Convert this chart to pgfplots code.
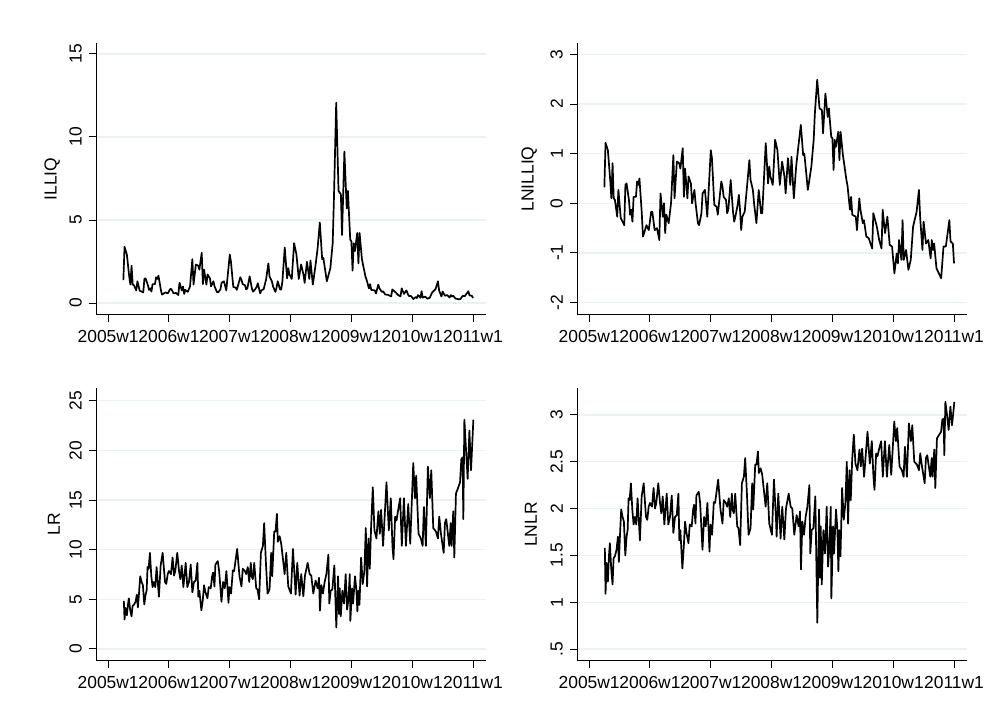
\documentclass[border=0pt]{standalone}
\usepackage{fontspec}
\setmainfont{Liberation Sans}
\usepackage{pgfplots}
\pgfplotsset{compat=1.18}
\definecolor{gridc}{RGB}{234,242,243}
\pgfplotsset{
 stata/.style={
  scale only axis, width=390bp,
  axis lines*=left,
  axis line style={black, line width=1bp, -},
  xmin=-10.4, xmax=323.1,
  xtick={0,52,104,156,208,260,312},
  xticklabels={2005w1,2006w1,2007w1,2008w1,2009w1,2010w1,2011w1},
  tick align=outside, major tick length=7bp,
  every tick/.style={black, line width=1bp},
  ymajorgrids, grid style={gridc, line width=1.2bp},
  ticklabel style={font=\fontsize{17.5}{17.5}\selectfont},
  yticklabel style={rotate=90, anchor=south, inner sep=0pt, yshift=7bp},
  xticklabel style={anchor=north, inner sep=0pt, yshift=-8bp},
  label style={font=\fontsize{17.5}{17.5}\selectfont},
  ylabel style={at={(axis description cs:0,0.5)}, anchor=south, inner sep=0pt, yshift=36bp},
 },
 ln/.style={black, line width=1.7bp, line join=round, no markers}
}
\begin{document}
\begin{tikzpicture}
\fill[white] (0,0) rectangle (995bp,726bp);
\useasboundingbox (0,0) rectangle (995bp,726bp);
% ILLIQ
\begin{axis}[stata, at={(96bp,411bp)}, anchor=south west, height=272bp,
  ymin=-0.72, ymax=15.66, ytick={0,5,10,15}, yticklabels={0,5,10,15}, ylabel={ILLIQ}]
\addplot[ln] coordinates {
(13,1.38) (14,3.39) (16,2.92) (18,1.60) (19,1.11) (20,2.25) (21,1.11) (22,1.07) (24,0.76) (25,1.31)
(27,0.74) (28,0.71) (30,0.64) (31,1.45) (32,1.49) (34,1.07) (35,0.79) (36,0.88) (37,0.69) (38,1.14)
(40,1.14) (41,1.55) (42,1.45) (43,1.65) (45,0.82) (46,0.51) (47,0.55) (49,0.64) (51,0.58) (53,0.84)
(54,0.84) (56,0.58) (58,0.61) (60,0.48) (61,1.22) (63,0.76) (64,1.00) (65,0.55) (66,0.79) (68,0.67)
(70,1.00) (72,2.64) (73,1.11) (75,2.32) (77,2.25) (78,2.01) (80,3.03) (81,1.14) (82,2.01) (84,1.11)
(85,1.72) (87,1.49) (88,1.00) (90,1.31) (91,1.00) (93,0.67) (94,0.64) (96,0.82) (97,1.22) (99,1.31)
(101,0.76) (104,2.92) (105,2.48) (107,0.97) (109,0.93) (110,0.79) (113,1.55) (114,1.40) (115,1.14) (117,1.07)
(118,0.82) (119,0.88) (121,1.60) (123,0.84) (124,0.69) (125,0.76) (127,0.97) (128,1.19) (129,0.88) (130,0.58)
(131,0.76) (133,0.84) (135,1.40) (137,2.39) (138,1.60) (139,1.45) (140,1.31) (141,1.00) (143,0.67) (144,0.93)
(145,1.31) (147,0.82) (148,0.82) (149,1.31) (151,3.35) (153,1.49) (154,2.10) (155,1.72) (157,1.45) (159,3.60)
(161,2.92) (163,1.45) (165,2.32) (167,1.72) (168,1.22) (170,2.48) (172,1.45) (173,2.56) (175,1.11) (177,2.10)
(179,3.22) (181,4.85) (183,2.64) (184,2.72) (187,1.31) (190,2.10) (192,3.60) (193,6.11) (195,12.06) (197,6.75)
(199,6.55) (200,4.10) (202,9.12) (204,5.70) (205,6.75) (207,3.82) (208,3.71) (209,1.95) (210,3.60) (211,3.13)
(213,4.22) (214,2.39) (215,4.22) (217,2.64) (220,1.60) (221,1.40) (223,0.88) (224,1.14) (225,0.79) (228,0.76)
(229,0.58) (231,1.11) (232,0.88) (234,0.67) (235,0.71) (237,0.51) (239,0.50) (242,0.40) (243,0.82) (246,0.63)
(248,0.48) (250,0.40) (251,0.88) (253,0.55) (255,0.76) (257,0.43) (259,0.42) (261,0.24) (263,0.36) (264,0.30)
(265,0.48) (267,0.32) (268,0.71) (269,0.32) (271,0.39) (273,0.26) (275,0.32) (277,0.63) (280,0.84) (282,1.31)
(283,0.76) (285,0.39) (286,0.69) (288,0.44) (290,0.48) (292,0.33) (293,0.48) (294,0.39) (295,0.44) (297,0.27)
(299,0.24) (301,0.22) (303,0.42) (305,0.42) (308,0.71) (309,0.46) (311,0.44) (312,0.30)
};
\end{axis}
% LNILLIQ
\begin{axis}[stata, at={(577bp,411bp)}, anchor=south west, height=272bp,
  ymin=-2.25, ymax=3.23, ytick={-2,-1,0,1,2,3}, yticklabels={-2,-1,0,1,2,3}, ylabel={LNILLIQ},
  ylabel style={yshift=4bp}]
\addplot[ln] coordinates {
(13,0.32) (14,1.22) (16,1.07) (18,0.47) (19,0.10) (20,0.81) (21,0.10) (22,0.07) (24,-0.27) (25,0.27)
(27,-0.30) (28,-0.34) (30,-0.44) (31,0.37) (32,0.40) (34,0.07) (35,-0.23) (36,-0.13) (37,-0.37) (38,0.13)
(40,0.13) (41,0.44) (42,0.37) (43,0.50) (45,-0.20) (46,-0.67) (47,-0.60) (49,-0.44) (51,-0.54) (53,-0.17)
(54,-0.17) (56,-0.54) (58,-0.50) (60,-0.74) (61,0.20) (63,-0.27) (64,0.00) (65,-0.60) (66,-0.23) (68,-0.40)
(70,0.00) (72,0.97) (73,0.10) (75,0.84) (77,0.81) (78,0.70) (80,1.11) (81,0.13) (82,0.70) (84,0.10)
(85,0.54) (87,0.40) (88,0.00) (90,0.27) (91,0.00) (93,-0.40) (94,-0.44) (96,-0.20) (97,0.20) (99,0.27)
(101,-0.27) (104,1.07) (105,0.91) (107,-0.03) (109,-0.07) (110,-0.23) (113,0.44) (114,0.34) (115,0.13) (117,0.07)
(118,-0.20) (119,-0.13) (121,0.47) (123,-0.17) (124,-0.37) (125,-0.27) (127,-0.03) (128,0.17) (129,-0.13) (130,-0.54)
(131,-0.27) (133,-0.17) (135,0.34) (137,0.87) (138,0.47) (139,0.37) (140,0.27) (141,0.00) (143,-0.40) (144,-0.07)
(145,0.27) (147,-0.20) (148,-0.20) (149,0.27) (151,1.21) (153,0.40) (154,0.74) (155,0.54) (157,0.37) (159,1.28)
(161,1.07) (163,0.37) (165,0.84) (167,0.54) (168,0.20) (170,0.91) (172,0.37) (173,0.94) (175,0.10) (177,0.74)
(179,1.17) (181,1.58) (183,0.97) (184,1.00) (187,0.27) (190,0.74) (192,1.28) (193,1.81) (195,2.49) (197,1.91)
(199,1.88) (200,1.41) (202,2.21) (204,1.74) (205,1.91) (207,1.34) (208,1.31) (209,0.67) (210,1.28) (211,1.14)
(213,1.44) (214,0.87) (215,1.44) (217,0.97) (220,0.47) (221,0.34) (223,-0.13) (224,0.13) (225,-0.23) (228,-0.27)
(229,-0.54) (231,0.10) (232,-0.13) (234,-0.40) (235,-0.34) (237,-0.67) (239,-0.70) (242,-0.91) (243,-0.20) (246,-0.47)
(248,-0.74) (250,-0.91) (251,-0.13) (253,-0.60) (255,-0.27) (257,-0.84) (259,-0.87) (261,-1.41) (263,-1.01) (264,-1.21)
(265,-0.74) (267,-1.14) (268,-0.34) (269,-1.14) (271,-0.94) (273,-1.34) (275,-1.14) (277,-0.47) (280,-0.17) (282,0.27)
(283,-0.27) (285,-0.94) (286,-0.37) (288,-0.81) (290,-0.74) (292,-1.11) (293,-0.74) (294,-0.94) (295,-0.81) (297,-1.31)
(299,-1.41) (301,-1.51) (303,-0.87) (305,-0.87) (308,-0.34) (309,-0.77) (311,-0.81) (312,-1.21)
};
\end{axis}
% LR
\begin{axis}[stata, at={(96bp,65bp)}, anchor=south west, height=273bp,
  ymin=-1.21, ymax=26.28, ytick={0,5,10,15,20,25}, yticklabels={0,5,10,15,20,25}, ylabel={LR}]
\addplot[ln] coordinates {
(13.4,4.85) (14.0,2.97) (14.9,4.14) (16.0,3.39) (16.9,4.44) (17.7,5.10) (18.9,3.86) (20.0,3.29) (20.9,4.35) (22.0,4.44)
(23.4,4.76) (24.6,5.47) (25.4,4.18) (26.3,5.47) (27.4,7.32) (28.6,6.75) (29.7,6.42) (30.9,4.48) (32.0,5.47) (32.9,5.87)
(33.7,8.25) (34.6,8.08) (35.7,9.68) (36.9,7.32) (38.0,6.23) (39.1,6.75) (40.3,6.23) (41.4,8.25) (43.4,5.26) (44.9,8.41)
(46.6,9.68) (48.6,6.75) (49.7,6.55) (50.9,7.54) (52.0,7.85) (53.7,7.54) (55.1,9.21) (56.3,7.39) (57.4,7.85) (59.1,9.68)
(60.6,7.85) (61.7,7.03) (62.9,8.41) (64.3,6.23) (66.3,8.67) (67.7,6.23) (69.1,6.75) (70.6,8.50) (72.0,5.70) (73.4,6.75)
(74.9,6.89) (76.3,8.67) (77.1,5.26) (78.0,5.87) (79.7,3.90) (80.9,4.90) (82.0,6.42) (83.1,5.75) (84.9,5.10) (86.0,6.23)
(87.7,6.11) (88.9,7.32) (89.7,7.69) (90.9,6.30) (91.7,8.50) (93.7,8.85) (94.9,7.85) (96.9,4.76) (98.3,6.75) (99.7,6.11)
(101.1,7.85) (102.9,4.66) (103.7,6.23) (105.1,5.58) (106.6,7.92) (107.7,7.85) (110.3,10.07) (112.3,7.32) (114.0,6.30) (115.1,8.08)
(116.9,7.85) (118.0,7.54) (119.4,8.25) (120.6,6.75) (122.0,8.67) (122.6,7.32) (123.7,7.03) (124.9,8.67) (126.6,6.11) (127.7,5.99)
(129.1,5.00) (130.6,9.68) (132.3,10.38) (133.4,12.68) (134.9,8.67) (136.3,5.58) (138.0,5.99) (139.4,9.68) (140.3,7.32) (142.0,11.82)
(143.1,11.82) (144.3,13.60) (145.1,10.80) (146.6,11.36) (148.0,10.59) (150.9,7.54) (152.3,9.68) (154.0,6.30) (156.3,5.58) (158.0,10.07)
(159.7,6.75) (160.3,5.47) (161.7,8.67) (163.7,5.37) (165.1,7.54) (166.9,5.31) (168.3,7.39) (170.6,8.67) (172.3,7.54) (173.7,7.39)
(175.4,5.58) (177.4,6.89) (179.1,6.11) (180.3,7.17) (181.1,3.86) (182.3,6.42) (183.7,5.58) (185.1,6.75) (186.6,7.54) (188.3,9.49)
(189.1,4.57) (190.3,5.87) (191.7,5.99) (193.4,8.41) (195.1,2.18) (196.6,7.32) (197.4,3.53) (198.0,6.11) (198.9,3.29) (200.3,5.87)
(201.7,4.57) (203.1,7.54) (204.3,3.97) (205.4,4.90) (206.6,7.54) (207.1,2.83) (208.6,6.11) (209.4,4.57) (211.1,7.32) (212.3,5.87)
(213.1,3.78) (214.0,5.87) (214.9,4.44) (216.3,9.21) (217.7,6.55) (219.1,7.85) (220.3,12.18) (221.4,6.30) (222.6,11.13) (223.7,8.08)
(224.9,12.43) (226.3,16.28) (227.7,11.94) (229.4,11.13) (231.1,13.87) (232.3,11.59) (233.4,14.01) (235.1,10.38) (238.0,16.78) (240.0,11.94)
(241.7,15.18) (243.1,10.38) (244.0,9.03) (245.4,13.33) (246.6,12.94) (248.0,14.01) (249.7,15.18) (251.1,10.38) (252.9,15.18) (254.6,10.38)
(256.6,14.59) (258.3,10.59) (260.9,18.73) (262.3,15.18) (263.4,17.46) (265.4,11.59) (267.4,11.13) (268.9,10.38) (270.0,14.30) (271.7,10.38)
(273.4,18.36) (275.1,15.18) (276.3,17.99) (278.0,12.18) (280.3,11.82) (282.0,11.13) (283.1,13.33) (284.6,11.59) (286.9,9.68) (288.0,12.68)
(289.1,13.07) (291.7,10.38) (292.9,12.68) (293.7,10.38) (295.1,13.87) (296.0,9.21) (297.4,15.64) (299.4,16.28) (300.9,16.78) (302.0,19.11)
(303.1,19.30) (303.7,13.07) (304.6,23.10) (306.0,20.09) (307.4,17.12) (308.9,21.98) (310.3,17.99) (312.3,23.10)
};
\end{axis}
% LNLR
\begin{axis}[stata, at={(577bp,65bp)}, anchor=south west, height=273bp,
  ymin=0.372, ymax=3.288, ytick={0.5,1,1.5,2,2.5,3}, yticklabels={.5,1,1.5,2,2.5,3}, ylabel={LNLR},
  ylabel style={yshift=4bp}]
\addplot[ln] coordinates {
(13.4,1.58) (14.0,1.09) (14.9,1.42) (16.0,1.22) (16.9,1.49) (17.7,1.63) (18.9,1.35) (20.0,1.19) (20.9,1.47) (22.0,1.49)
(23.4,1.56) (24.6,1.70) (25.4,1.43) (26.3,1.70) (27.4,1.99) (28.6,1.91) (29.7,1.86) (30.9,1.50) (32.0,1.70) (32.9,1.77)
(33.7,2.11) (34.6,2.09) (35.7,2.27) (36.9,1.99) (38.0,1.83) (39.1,1.91) (40.3,1.83) (41.4,2.11) (43.4,1.66) (44.9,2.13)
(46.6,2.27) (48.6,1.91) (49.7,1.88) (50.9,2.02) (52.0,2.06) (53.7,2.02) (55.1,2.22) (56.3,2.00) (57.4,2.06) (59.1,2.27)
(60.6,2.06) (61.7,1.95) (62.9,2.13) (64.3,1.83) (66.3,2.16) (67.7,1.83) (69.1,1.91) (70.6,2.14) (72.0,1.74) (73.4,1.91)
(74.9,1.93) (76.3,2.16) (77.1,1.66) (78.0,1.77) (79.7,1.36) (80.9,1.59) (82.0,1.86) (83.1,1.75) (84.9,1.63) (86.0,1.83)
(87.7,1.81) (88.9,1.99) (89.7,2.04) (90.9,1.84) (91.7,2.14) (93.7,2.18) (94.9,2.06) (96.9,1.56) (98.3,1.91) (99.7,1.81)
(101.1,2.06) (102.9,1.54) (103.7,1.83) (105.1,1.72) (106.6,2.07) (107.7,2.06) (110.3,2.31) (112.3,1.99) (114.0,1.84) (115.1,2.09)
(116.9,2.06) (118.0,2.02) (119.4,2.11) (120.6,1.91) (122.0,2.16) (122.6,1.99) (123.7,1.95) (124.9,2.16) (126.6,1.81) (127.7,1.79)
(129.1,1.61) (130.6,2.27) (132.3,2.34) (133.4,2.54) (134.9,2.16) (136.3,1.72) (138.0,1.79) (139.4,2.27) (140.3,1.99) (142.0,2.47)
(143.1,2.47) (144.3,2.61) (145.1,2.38) (146.6,2.43) (148.0,2.36) (150.9,2.02) (152.3,2.27) (154.0,1.84) (156.3,1.72) (158.0,2.31)
(159.7,1.91) (160.3,1.70) (161.7,2.16) (163.7,1.68) (165.1,2.02) (166.9,1.67) (168.3,2.00) (170.6,2.16) (172.3,2.02) (173.7,2.00)
(175.4,1.72) (177.4,1.93) (179.1,1.81) (180.3,1.97) (181.1,1.35) (182.3,1.86) (183.7,1.72) (185.1,1.91) (186.6,2.02) (188.3,2.25)
(189.1,1.52) (190.3,1.77) (191.7,1.79) (193.4,2.13) (195.1,0.78) (196.6,1.99) (197.4,1.26) (198.0,1.81) (198.9,1.19) (200.3,1.77)
(201.7,1.52) (203.1,2.02) (204.3,1.38) (205.4,1.59) (206.6,2.02) (207.1,1.04) (208.6,1.81) (209.4,1.52) (211.1,1.99) (212.3,1.77)
(213.1,1.33) (214.0,1.77) (214.9,1.49) (216.3,2.22) (217.7,1.88) (219.1,2.06) (220.3,2.50) (221.4,1.84) (222.6,2.41) (223.7,2.09)
(224.9,2.52) (226.3,2.79) (227.7,2.48) (229.4,2.41) (231.1,2.63) (232.3,2.45) (233.4,2.64) (235.1,2.34) (238.0,2.82) (240.0,2.48)
(241.7,2.72) (243.1,2.34) (244.0,2.20) (245.4,2.59) (246.6,2.56) (248.0,2.64) (249.7,2.72) (251.1,2.34) (252.9,2.72) (254.6,2.34)
(256.6,2.68) (258.3,2.36) (260.9,2.93) (262.3,2.72) (263.4,2.86) (265.4,2.45) (267.4,2.41) (268.9,2.34) (270.0,2.66) (271.7,2.34)
(273.4,2.91) (275.1,2.72) (276.3,2.89) (278.0,2.50) (280.3,2.47) (282.0,2.41) (283.1,2.59) (284.6,2.45) (286.9,2.27) (288.0,2.54)
(289.1,2.57) (291.7,2.34) (292.9,2.54) (293.7,2.34) (295.1,2.63) (296.0,2.22) (297.4,2.75) (299.4,2.79) (300.9,2.82) (302.0,2.95)
(303.1,2.96) (303.7,2.57) (304.6,3.14) (306.0,3.00) (307.4,2.84) (308.9,3.09) (310.3,2.89) (312.3,3.14)
};
\end{axis}
\end{tikzpicture}
\end{document}
